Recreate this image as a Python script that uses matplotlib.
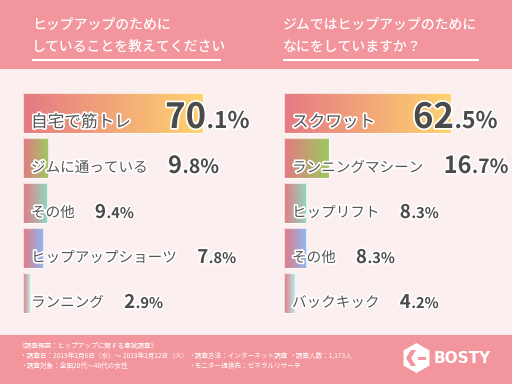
import numpy as np
import matplotlib
matplotlib.use("Agg")
import matplotlib.pyplot as plt
import matplotlib.patheffects as pe
from matplotlib.patches import Rectangle, RegularPolygon, Polygon
from matplotlib.colors import to_rgb

plt.rcParams['font.family'] = ['Noto Sans CJK JP', 'DejaVu Sans']

# --- data ---
left_title = ["ヒップアップのために", "していることを教えてください"]
left_labels = ["自宅で筋トレ", "ジムに通っている", "その他", "ヒップアップショーツ", "ランニング"]
left_values = [70.1, 9.8, 9.4, 7.8, 2.9]

right_title = ["ジムではヒップアップのために", "なにをしていますか？"]
right_labels = ["スクワット", "ランニングマシーン", "ヒップリフト", "その他", "バックキック"]
right_values = [62.5, 16.7, 8.3, 8.3, 4.2]

footer_head = "《調査概要：ヒップアップに関する意識調査》"
footer_rows = [
    ["・調査日：2019年2月6日（水）〜 2019年2月12日（火）", "・調査方法：インターネット調査", "・調査人数：1,173人"],
    ["・調査対象：全国20代〜40代の女性", "・モニター提供先：ゼネラルリサーチ"],
]
brand = "BOSTY"

# --- style ---
pink = "#F2959D"
bg = "#FCEFF0"
start_color = "#E47A84"
end_colors = ["#FFD36E", "#9DC95F", "#8FD8BF", "#8BB8F2", "#B8F3F1"]
text_dark = "#4A4A4A"
label_sizes = [12, 10.5, 10.5, 10.5, 10.5]
int_sizes = [25, 17, 13.5, 13.5, 13.5]
dec_sizes = [16.5, 14, 10.5, 10.5, 10.5]
outline = [pe.withStroke(linewidth=2.5, foreground="white")]

fig = plt.figure(figsize=(5.12, 3.84), dpi=100)
fig.patch.set_facecolor(bg)
ax = fig.add_axes([0, 0, 1, 1])
ax.set_xlim(0, 512)
ax.set_ylim(384, 0)
ax.axis("off")

# bands
ax.add_patch(Rectangle((0, 0), 512, 69, color=pink, lw=0, zorder=0))
ax.add_patch(Rectangle((0, 335), 512, 49, color=pink, lw=0, zorder=0))

fig.canvas.draw()
renderer = fig.canvas.get_renderer()
inv = ax.transData.inverted()


def right_edge(t):
    bb = t.get_window_extent(renderer)
    return inv.transform((bb.x1, bb.y0))[0]


def gradient(c0, c1, n=128):
    a = np.array(to_rgb(c0))
    b = np.array(to_rgb(c1))
    f = np.linspace(0, 1, n)[:, None]
    return (a * (1 - f) + b * f)[None, :, :]


def draw_panel(x0, scale, tx, title, labels, values, underline_end):
    for k, line in enumerate(title):
        ax.text(tx, 25 + k * 22, line, color="white", fontsize=10,
                va="center", ha="left", fontweight="medium")
    ax.plot([tx, underline_end], [60, 60], color="white", lw=1.5,
            solid_capstyle="butt")

    for i, (lab, v) in enumerate(zip(labels, values)):
        top = 93 + i * 45
        h = 40
        w = v * scale
        ax.imshow(gradient(start_color, end_colors[i]), extent=(x0, x0 + w, top + h, top),
                  aspect="auto", interpolation="bilinear", zorder=1)
        ax.add_patch(Rectangle((x0, top), w, h, fill=False, ec="white",
                               lw=0.8, alpha=0.7, zorder=2))
        base = top + 35
        t = ax.text(x0 + 8, base - 1, lab, fontsize=label_sizes[i], color="#555555",
                    va="baseline", ha="left", path_effects=outline, zorder=3)
        ip, dp = f"{v:.1f}".split(".")
        if i == 0:
            ti = ax.text(x0 + w + 3, base, ip, fontsize=int_sizes[i], fontweight="bold",
                         color=text_dark, va="baseline", ha="right",
                         path_effects=outline, zorder=3)
        else:
            ti = ax.text(right_edge(t) + 20, base, ip, fontsize=int_sizes[i],
                         fontweight="bold", color=text_dark, va="baseline", ha="left",
                         path_effects=outline, zorder=3)
        ax.text(right_edge(ti) + 0.5, base, "." + dp + "%", fontsize=dec_sizes[i],
                fontweight="bold", color=text_dark, va="baseline", ha="left",
                path_effects=outline, zorder=3)


draw_panel(23, 180 / 70.1, 32, left_title, left_labels, left_values, 221)
draw_panel(284, 167 / 62.5, 283, right_title, right_labels, right_values, 479)

# footer
fs = 4.8
ax.text(18, 346, footer_head, color="white", fontsize=fs, va="center", ha="left")
cols = [20, 188, 289]
for r, row in enumerate(footer_rows):
    for c, txt in enumerate(row):
        ax.text(cols[c], 356 + r * 10, txt, color="white", fontsize=fs,
                va="center", ha="left")

# logo
ax.add_patch(RegularPolygon((416.5, 358), numVertices=6, radius=15, orientation=0,
                            color="white", lw=0, zorder=3))
ax.add_patch(Polygon([(411, 350), (406, 358), (411, 366), (416, 366), (411, 358), (416, 350)],
                     closed=True, color=pink, lw=0, zorder=4))
ax.add_patch(Rectangle((418, 356.5), 8, 3, color=pink, lw=0, zorder=4))
ax.text(434, 358.5, brand, color="white", fontsize=11, fontweight="bold",
        family=["DejaVu Sans"], va="center", ha="left")

fig.savefig("out.png", dpi=100, facecolor=fig.get_facecolor())
